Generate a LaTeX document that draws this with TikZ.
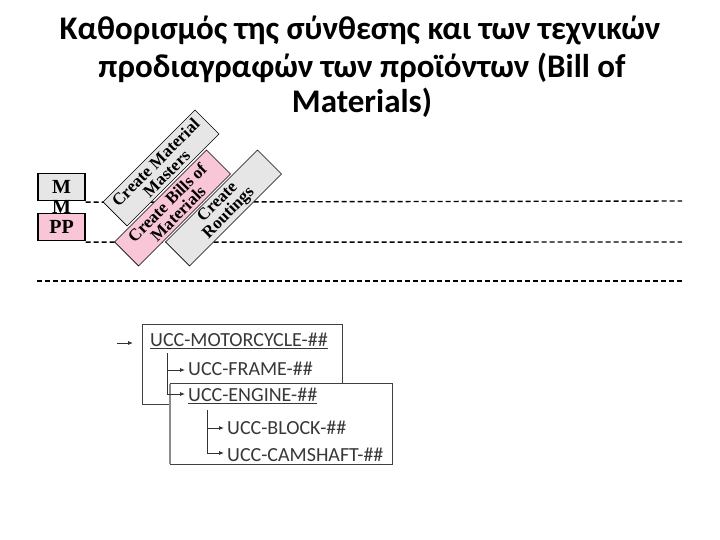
\documentclass[tikz,border=0pt]{standalone}
\usepackage{fontspec}
\setmainfont{Liberation Serif}
\newfontfamily\calib{Carlito}
\usetikzlibrary{arrows.meta,calc}
\definecolor{lgray}{RGB}{230,230,230}
\definecolor{lpink}{RGB}{248,198,214}
\definecolor{txtgray}{RGB}{56,56,56}
\tikzset{
  x=1pt,y=-1pt,
  dashline/.style={line width=1.4pt,dash pattern=on 5pt off 3pt},
  sidebox/.style={draw,line width=1.4pt,minimum width=47pt,minimum height=27pt,inner sep=0pt,font=\bfseries\fontsize{20}{20}\selectfont},
  slant/.style={draw,line width=0.6pt,rotate=45,minimum width=130pt,minimum height=34pt,inner sep=0pt,align=center,font=\bfseries\fontsize{17}{15.5}\selectfont},
  treebox/.style={draw=black!75,line width=0.8pt,fill=white},
  treetext/.style={anchor=west,inner sep=3pt,text=txtgray,font=\calib\fontsize{20}{20}\selectfont},
  arr/.style={line width=0.8pt,draw=black!80,-{Latex[length=5pt,width=4pt]}},
  title/.style={anchor=base,font=\calib\bfseries\fontsize{33}{33}\selectfont}
}
\begin{document}
\begin{tikzpicture}
\useasboundingbox (0,0) rectangle (720,540);
% title
\node[title] (ti1) at (360,40) {Καθορισμός της σύνθεσης και των τεχνικών};
\node[title] (ti2) at (362,78) {προδιαγραφών των προϊόντων (Bill of};
\node[title] (ti3) at (362,113) {Materials)};
% side boxes
\node[sidebox,fill=lgray] (mm) at (61.5,187) {M};
\node[inner sep=0pt,font=\bfseries\fontsize{20}{20}\selectfont] (mm2) at (61.5,207) {M};
\node[sidebox,fill=lpink] (pp) at (61.5,227) {PP};
% dashed lines
\coordinate (e1) at (682,201);
\coordinate (e2) at (682,242);
\coordinate (s3) at (37,281);
\coordinate (e3) at (682,281);
\draw[dashline] (mm.south east) ++(0,1) -- (e1);
\draw[dashline] (pp.south east) ++(0,1) -- (e2);
\draw[dashline] (s3) -- (e3);
% slanted boxes
\node[slant,fill=lgray] (cmm) at (161,168) {Create Material\\Masters};
\node[slant,fill=lpink] (cbm) at (172.5,208) {Create Bills of\\Materials};
\node[slant,fill=lgray] (cr) at (223.5,208) {Create\\Routings};
% tree
\draw[treebox] (142,324) rectangle (342,404);
\draw[treebox] (170,383) rectangle (392,464);
\draw[draw=black!45,line width=1.2pt] (170,384) -- (170,464);
\node[treetext] (t1) at (147,341) {\underline{UCC-MOTORCYCLE-\#\#}};
\node[treetext] (t2) at (185,369) {UCC-FRAME-\#\#};
\node[treetext] (t3) at (185,396) {\underline{UCC-ENGINE-\#\#}};
\node[treetext] (t4) at (224,428) {UCC-BLOCK-\#\#};
\node[treetext] (t5) at (224,455) {UCC-CAMSHAFT-\#\#};
\coordinate (in) at (117,343);
\coordinate (v1) at (167,353);
\coordinate (v2) at (207,410);
\draw[arr] (in) -- ($(t1.west)+(-14,2)$);
\draw[arr] (v1) |- ($(t2.west)+(0,1)$);
\draw[arr] (v1) |- ($(t3.west)+(0,-2)$);
\draw[arr] (v2) |- ($(t4.west)+(0,0)$);
\draw[arr] (v2) |- ($(t5.west)+(0,-2)$);
\end{tikzpicture}
\end{document}
